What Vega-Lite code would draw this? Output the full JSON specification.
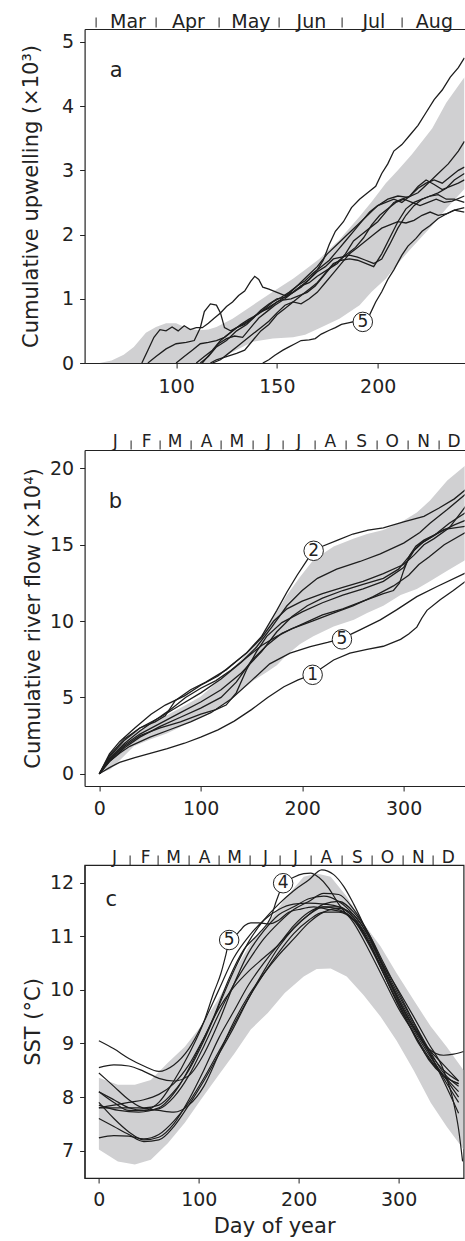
{
"$schema": "https://vega.github.io/schema/vega-lite/v6.json",
"padding": {"left": 19.6, "top": 12, "right": 0, "bottom": 0},
"config": {
  "view": {"stroke": "#222", "strokeWidth": 1.2},
  "axis": {"labelFont": "DejaVu Sans", "titleFont": "DejaVu Sans", "labelFontSize": 19, "titleFontSize": 21, "titleFontWeight": "normal", "labelColor": "#222", "titleColor": "#222", "domainColor": "#222", "tickColor": "#222", "grid": false, "domainWidth": 1.2, "tickWidth": 1, "labelFlush": false, "labelOverlap": false}
},
"datasets": {
"bandA": [{"d":52,"v":-0.05,"v2":-0.05},{"d":56,"v":-0.05,"v2":-0.03},{"d":62,"v":-0.05,"v2":0.0},{"d":68,"v":-0.05,"v2":0.04},{"d":74,"v":-0.05,"v2":0.13},{"d":79,"v":-0.05,"v2":0.25},{"d":85,"v":-0.05,"v2":0.47},{"d":90,"v":-0.05,"v2":0.56},{"d":95,"v":-0.05,"v2":0.62},{"d":100,"v":-0.05,"v2":0.62},{"d":105,"v":-0.05,"v2":0.55},{"d":111,"v":-0.05,"v2":0.51},{"d":116,"v":-0.02,"v2":0.52},{"d":120,"v":0.04,"v2":0.56},{"d":128,"v":0.17,"v2":0.69},{"d":138,"v":0.33,"v2":0.9},{"d":148,"v":0.38,"v2":1.11},{"d":158,"v":0.4,"v2":1.31},{"d":164,"v":0.44,"v2":1.45},{"d":171,"v":0.54,"v2":1.62},{"d":181,"v":0.69,"v2":1.92},{"d":191,"v":0.9,"v2":2.28},{"d":197,"v":1.11,"v2":2.51},{"d":204,"v":1.31,"v2":2.8},{"d":210,"v":1.55,"v2":3.0},{"d":217,"v":1.8,"v2":3.25},{"d":227,"v":2.14,"v2":3.65},{"d":234,"v":2.4,"v2":4.05},{"d":243,"v":2.71,"v2":4.45}],
"linesA": [
{"s":"a1","d":83,"v":0},{"s":"a1","d":86,"v":0.2},{"s":"a1","d":89,"v":0.4},{"s":"a1","d":92,"v":0.52},{"s":"a1","d":95,"v":0.5},{"s":"a1","d":98,"v":0.56},{"s":"a1","d":101,"v":0.5},{"s":"a1","d":104,"v":0.58},{"s":"a1","d":107,"v":0.52},{"s":"a1","d":110,"v":0.55},{"s":"a1","d":113,"v":0.55},{"s":"a1","d":116,"v":0.62},{"s":"a1","d":119,"v":0.7},{"s":"a1","d":122,"v":0.78},{"s":"a1","d":125,"v":0.88},{"s":"a1","d":128,"v":0.95},{"s":"a1","d":131,"v":1.05},{"s":"a1","d":134,"v":1.12},{"s":"a1","d":137,"v":1.27},{"s":"a1","d":139,"v":1.35},{"s":"a1","d":141,"v":1.3},{"s":"a1","d":143,"v":1.18},{"s":"a1","d":146,"v":1.15},{"s":"a1","d":150,"v":1.1},{"s":"a1","d":154,"v":1.05},{"s":"a1","d":158,"v":1.1},{"s":"a1","d":162,"v":1.2},{"s":"a1","d":166,"v":1.3},{"s":"a1","d":170,"v":1.42},{"s":"a1","d":174,"v":1.5},{"s":"a1","d":178,"v":1.62},{"s":"a1","d":182,"v":1.65},{"s":"a1","d":186,"v":1.68},{"s":"a1","d":190,"v":1.65},{"s":"a1","d":194,"v":1.6},{"s":"a1","d":198,"v":1.55},{"s":"a1","d":202,"v":1.62},{"s":"a1","d":206,"v":1.85},{"s":"a1","d":210,"v":2.1},{"s":"a1","d":214,"v":2.3},{"s":"a1","d":218,"v":2.45},{"s":"a1","d":222,"v":2.55},{"s":"a1","d":226,"v":2.6},{"s":"a1","d":230,"v":2.62},{"s":"a1","d":234,"v":2.55},{"s":"a1","d":238,"v":2.55},{"s":"a1","d":243,"v":2.5},
{"s":"a2","d":86,"v":0},{"s":"a2","d":90,"v":0.1},{"s":"a2","d":95,"v":0.22},{"s":"a2","d":100,"v":0.3},{"s":"a2","d":105,"v":0.32},{"s":"a2","d":109,"v":0.35},{"s":"a2","d":112,"v":0.55},{"s":"a2","d":114,"v":0.8},{"s":"a2","d":117,"v":0.92},{"s":"a2","d":120,"v":0.9},{"s":"a2","d":122,"v":0.78},{"s":"a2","d":124,"v":0.55},{"s":"a2","d":127,"v":0.5},{"s":"a2","d":130,"v":0.55},{"s":"a2","d":134,"v":0.6},{"s":"a2","d":138,"v":0.7},{"s":"a2","d":142,"v":0.8},{"s":"a2","d":146,"v":0.85},{"s":"a2","d":150,"v":0.95},{"s":"a2","d":154,"v":1.0},{"s":"a2","d":158,"v":1.1},{"s":"a2","d":162,"v":1.2},{"s":"a2","d":166,"v":1.25},{"s":"a2","d":170,"v":1.35},{"s":"a2","d":175,"v":1.45},{"s":"a2","d":180,"v":1.55},{"s":"a2","d":184,"v":1.7},{"s":"a2","d":188,"v":1.9},{"s":"a2","d":192,"v":2.0},{"s":"a2","d":196,"v":2.1},{"s":"a2","d":200,"v":2.2},{"s":"a2","d":204,"v":2.35},{"s":"a2","d":208,"v":2.5},{"s":"a2","d":212,"v":2.55},{"s":"a2","d":216,"v":2.6},{"s":"a2","d":220,"v":2.72},{"s":"a2","d":224,"v":2.8},{"s":"a2","d":228,"v":2.85},{"s":"a2","d":232,"v":2.8},{"s":"a2","d":236,"v":2.9},{"s":"a2","d":240,"v":3.0},{"s":"a2","d":243,"v":3.05},
{"s":"a3","d":112,"v":0},{"s":"a3","d":116,"v":0.1},{"s":"a3","d":120,"v":0.25},{"s":"a3","d":125,"v":0.35},{"s":"a3","d":130,"v":0.5},{"s":"a3","d":135,"v":0.6},{"s":"a3","d":140,"v":0.75},{"s":"a3","d":145,"v":0.85},{"s":"a3","d":150,"v":0.95},{"s":"a3","d":155,"v":1.05},{"s":"a3","d":160,"v":1.2},{"s":"a3","d":165,"v":1.35},{"s":"a3","d":170,"v":1.5},{"s":"a3","d":175,"v":1.7},{"s":"a3","d":180,"v":1.85},{"s":"a3","d":185,"v":2.0},{"s":"a3","d":190,"v":2.15},{"s":"a3","d":195,"v":2.3},{"s":"a3","d":200,"v":2.45},{"s":"a3","d":205,"v":2.55},{"s":"a3","d":210,"v":2.6},{"s":"a3","d":215,"v":2.58},{"s":"a3","d":220,"v":2.65},{"s":"a3","d":225,"v":2.8},{"s":"a3","d":230,"v":2.95},{"s":"a3","d":235,"v":3.1},{"s":"a3","d":240,"v":3.3},{"s":"a3","d":243,"v":3.45},
{"s":"a4","d":110,"v":0},{"s":"a4","d":114,"v":0.1},{"s":"a4","d":118,"v":0.2},{"s":"a4","d":122,"v":0.35},{"s":"a4","d":126,"v":0.45},{"s":"a4","d":130,"v":0.55},{"s":"a4","d":134,"v":0.62},{"s":"a4","d":138,"v":0.7},{"s":"a4","d":142,"v":0.82},{"s":"a4","d":146,"v":0.92},{"s":"a4","d":150,"v":1.0},{"s":"a4","d":154,"v":1.02},{"s":"a4","d":158,"v":1.1},{"s":"a4","d":162,"v":1.18},{"s":"a4","d":166,"v":1.3},{"s":"a4","d":170,"v":1.45},{"s":"a4","d":173,"v":1.6},{"s":"a4","d":176,"v":1.85},{"s":"a4","d":179,"v":2.05},{"s":"a4","d":183,"v":2.2},{"s":"a4","d":187,"v":2.42},{"s":"a4","d":191,"v":2.55},{"s":"a4","d":195,"v":2.65},{"s":"a4","d":199,"v":2.75},{"s":"a4","d":202,"v":2.95},{"s":"a4","d":205,"v":3.1},{"s":"a4","d":208,"v":3.3},{"s":"a4","d":212,"v":3.4},{"s":"a4","d":216,"v":3.55},{"s":"a4","d":220,"v":3.7},{"s":"a4","d":224,"v":3.9},{"s":"a4","d":228,"v":4.1},{"s":"a4","d":232,"v":4.25},{"s":"a4","d":236,"v":4.45},{"s":"a4","d":240,"v":4.6},{"s":"a4","d":243,"v":4.75},
{"s":"a5","d":117,"v":0},{"s":"a5","d":120,"v":0.05},{"s":"a5","d":125,"v":0.1},{"s":"a5","d":130,"v":0.15},{"s":"a5","d":134,"v":0.2},{"s":"a5","d":138,"v":0.35},{"s":"a5","d":142,"v":0.5},{"s":"a5","d":146,"v":0.6},{"s":"a5","d":150,"v":0.75},{"s":"a5","d":154,"v":0.85},{"s":"a5","d":158,"v":0.95},{"s":"a5","d":162,"v":1.05},{"s":"a5","d":166,"v":1.15},{"s":"a5","d":170,"v":1.25},{"s":"a5","d":174,"v":1.4},{"s":"a5","d":178,"v":1.55},{"s":"a5","d":182,"v":1.6},{"s":"a5","d":186,"v":1.62},{"s":"a5","d":190,"v":1.6},{"s":"a5","d":194,"v":1.55},{"s":"a5","d":198,"v":1.5},{"s":"a5","d":202,"v":1.7},{"s":"a5","d":206,"v":1.95},{"s":"a5","d":210,"v":2.2},{"s":"a5","d":214,"v":2.4},{"s":"a5","d":218,"v":2.5},{"s":"a5","d":222,"v":2.55},{"s":"a5","d":226,"v":2.6},{"s":"a5","d":230,"v":2.65},{"s":"a5","d":234,"v":2.72},{"s":"a5","d":238,"v":2.85},{"s":"a5","d":243,"v":2.95},
{"s":"a6","d":100,"v":0},{"s":"a6","d":104,"v":0.1},{"s":"a6","d":108,"v":0.2},{"s":"a6","d":112,"v":0.3},{"s":"a6","d":116,"v":0.32},{"s":"a6","d":120,"v":0.35},{"s":"a6","d":124,"v":0.4},{"s":"a6","d":128,"v":0.5},{"s":"a6","d":132,"v":0.6},{"s":"a6","d":136,"v":0.68},{"s":"a6","d":140,"v":0.75},{"s":"a6","d":144,"v":0.85},{"s":"a6","d":148,"v":0.95},{"s":"a6","d":152,"v":1.02},{"s":"a6","d":156,"v":1.1},{"s":"a6","d":160,"v":1.2},{"s":"a6","d":164,"v":1.28},{"s":"a6","d":168,"v":1.4},{"s":"a6","d":172,"v":1.5},{"s":"a6","d":176,"v":1.6},{"s":"a6","d":180,"v":1.75},{"s":"a6","d":184,"v":1.9},{"s":"a6","d":188,"v":2.05},{"s":"a6","d":192,"v":2.2},{"s":"a6","d":196,"v":2.35},{"s":"a6","d":200,"v":2.45},{"s":"a6","d":204,"v":2.5},{"s":"a6","d":208,"v":2.55},{"s":"a6","d":212,"v":2.5},{"s":"a6","d":216,"v":2.6},{"s":"a6","d":220,"v":2.75},{"s":"a6","d":224,"v":2.85},{"s":"a6","d":228,"v":2.78},{"s":"a6","d":232,"v":2.7},{"s":"a6","d":236,"v":2.75},{"s":"a6","d":240,"v":2.8},{"s":"a6","d":243,"v":2.85},
{"s":"a7","d":113,"v":0},{"s":"a7","d":117,"v":0.15},{"s":"a7","d":121,"v":0.3},{"s":"a7","d":125,"v":0.38},{"s":"a7","d":129,"v":0.42},{"s":"a7","d":133,"v":0.4},{"s":"a7","d":137,"v":0.55},{"s":"a7","d":141,"v":0.7},{"s":"a7","d":145,"v":0.8},{"s":"a7","d":149,"v":0.9},{"s":"a7","d":153,"v":0.98},{"s":"a7","d":157,"v":1.0},{"s":"a7","d":161,"v":1.05},{"s":"a7","d":165,"v":1.1},{"s":"a7","d":169,"v":1.2},{"s":"a7","d":173,"v":1.35},{"s":"a7","d":177,"v":1.5},{"s":"a7","d":181,"v":1.6},{"s":"a7","d":185,"v":1.7},{"s":"a7","d":189,"v":1.8},{"s":"a7","d":193,"v":1.95},{"s":"a7","d":197,"v":2.15},{"s":"a7","d":201,"v":2.3},{"s":"a7","d":205,"v":2.4},{"s":"a7","d":209,"v":2.5},{"s":"a7","d":213,"v":2.55},{"s":"a7","d":217,"v":2.5},{"s":"a7","d":221,"v":2.45},{"s":"a7","d":225,"v":2.5},{"s":"a7","d":229,"v":2.55},{"s":"a7","d":233,"v":2.5},{"s":"a7","d":237,"v":2.52},{"s":"a7","d":243,"v":2.6},
{"s":"a8","d":118,"v":0},{"s":"a8","d":122,"v":0.05},{"s":"a8","d":126,"v":0.15},{"s":"a8","d":130,"v":0.25},{"s":"a8","d":134,"v":0.35},{"s":"a8","d":138,"v":0.45},{"s":"a8","d":142,"v":0.55},{"s":"a8","d":146,"v":0.65},{"s":"a8","d":150,"v":0.78},{"s":"a8","d":154,"v":0.9},{"s":"a8","d":158,"v":0.95},{"s":"a8","d":162,"v":0.92},{"s":"a8","d":166,"v":1.0},{"s":"a8","d":170,"v":1.1},{"s":"a8","d":174,"v":1.25},{"s":"a8","d":178,"v":1.4},{"s":"a8","d":182,"v":1.55},{"s":"a8","d":186,"v":1.7},{"s":"a8","d":190,"v":1.8},{"s":"a8","d":194,"v":1.9},{"s":"a8","d":198,"v":2.0},{"s":"a8","d":202,"v":2.1},{"s":"a8","d":206,"v":2.15},{"s":"a8","d":210,"v":2.2},{"s":"a8","d":214,"v":2.18},{"s":"a8","d":218,"v":2.22},{"s":"a8","d":222,"v":2.3},{"s":"a8","d":226,"v":2.35},{"s":"a8","d":230,"v":2.3},{"s":"a8","d":234,"v":2.32},{"s":"a8","d":238,"v":2.38},{"s":"a8","d":243,"v":2.35},
{"s":"a9","d":143,"v":0},{"s":"a9","d":146,"v":0.05},{"s":"a9","d":149,"v":0.12},{"s":"a9","d":153,"v":0.2},{"s":"a9","d":156,"v":0.25},{"s":"a9","d":159,"v":0.3},{"s":"a9","d":162,"v":0.35},{"s":"a9","d":166,"v":0.36},{"s":"a9","d":169,"v":0.38},{"s":"a9","d":172,"v":0.45},{"s":"a9","d":176,"v":0.51},{"s":"a9","d":179,"v":0.55},{"s":"a9","d":182,"v":0.6},{"s":"a9","d":186,"v":0.63},{"s":"a9","d":189,"v":0.65},{"s":"a9","d":193,"v":0.66},{"s":"a9","d":196,"v":0.75},{"s":"a9","d":199,"v":0.95},{"s":"a9","d":202,"v":1.11},{"s":"a9","d":205,"v":1.3},{"s":"a9","d":208,"v":1.45},{"s":"a9","d":212,"v":1.68},{"s":"a9","d":215,"v":1.82},{"s":"a9","d":219,"v":1.94},{"s":"a9","d":222,"v":2.05},{"s":"a9","d":226,"v":2.14},{"s":"a9","d":230,"v":2.25},{"s":"a9","d":234,"v":2.32},{"s":"a9","d":238,"v":2.38},{"s":"a9","d":243,"v":2.42}
],
"labA": [{"d":192.6,"v":0.64,"t":"5"}],
"letA": [{"d":70.3,"v":4.55,"t":"a"}],
"bandB": [{"d":0,"v":0,"v2":0},{"d":5,"v":0.15,"v2":0.6},{"d":11,"v":0.3,"v2":1.1},{"d":22,"v":1.0,"v2":1.95},{"d":34,"v":1.8,"v2":2.66},{"d":50,"v":2.25,"v2":3.3},{"d":67,"v":2.66,"v2":3.85},{"d":84,"v":3.2,"v2":4.45},{"d":100,"v":3.75,"v2":5.06},{"d":116,"v":4.3,"v2":6.0},{"d":133,"v":5.06,"v2":7.0},{"d":152,"v":6.1,"v2":8.33},{"d":166,"v":6.7,"v2":9.6},{"d":175,"v":7.1,"v2":10.6},{"d":185,"v":7.8,"v2":11.7},{"d":198,"v":8.5,"v2":12.9},{"d":211,"v":9.0,"v2":14.0},{"d":231,"v":9.64,"v2":14.88},{"d":251,"v":10.08,"v2":15.4},{"d":264,"v":10.52,"v2":15.7},{"d":280,"v":11.0,"v2":15.97},{"d":297,"v":11.7,"v2":16.45},{"d":313,"v":12.1,"v2":17.1},{"d":326,"v":12.6,"v2":17.9},{"d":343,"v":13.3,"v2":19.2},{"d":361,"v":14.0,"v2":20.2}],
"linesB": [
{"s":"b1","d":0,"v":0},{"s":"b1","d":10,"v":0.4},{"s":"b1","d":20,"v":0.75},{"s":"b1","d":35,"v":1.05},{"s":"b1","d":51,"v":1.35},{"s":"b1","d":67,"v":1.65},{"s":"b1","d":84,"v":2.0},{"s":"b1","d":100,"v":2.4},{"s":"b1","d":117,"v":2.88},{"s":"b1","d":133,"v":3.45},{"s":"b1","d":150,"v":4.2},{"s":"b1","d":166,"v":5.0},{"s":"b1","d":182,"v":5.7},{"s":"b1","d":196,"v":6.15},{"s":"b1","d":210,"v":6.5},{"s":"b1","d":231,"v":7.45},{"s":"b1","d":247,"v":7.9},{"s":"b1","d":264,"v":8.15},{"s":"b1","d":280,"v":8.35},{"s":"b1","d":297,"v":8.8},{"s":"b1","d":305,"v":9.15},{"s":"b1","d":313,"v":9.6},{"s":"b1","d":318,"v":10.2},{"s":"b1","d":323,"v":10.7},{"s":"b1","d":336,"v":11.4},{"s":"b1","d":349,"v":12.0},{"s":"b1","d":361,"v":12.6},
{"s":"b2","d":0,"v":0},{"s":"b2","d":10,"v":1.3},{"s":"b2","d":20,"v":2.1},{"s":"b2","d":35,"v":3.0},{"s":"b2","d":51,"v":3.9},{"s":"b2","d":65,"v":4.5},{"s":"b2","d":84,"v":5.1},{"s":"b2","d":100,"v":5.8},{"s":"b2","d":117,"v":6.4},{"s":"b2","d":130,"v":7.1},{"s":"b2","d":145,"v":7.9},{"s":"b2","d":160,"v":9.0},{"s":"b2","d":175,"v":10.7},{"s":"b2","d":185,"v":11.9},{"s":"b2","d":195,"v":13.0},{"s":"b2","d":205,"v":14.0},{"s":"b2","d":211,"v":14.6},{"s":"b2","d":220,"v":14.9},{"s":"b2","d":235,"v":15.3},{"s":"b2","d":250,"v":15.7},{"s":"b2","d":265,"v":15.95},{"s":"b2","d":280,"v":16.1},{"s":"b2","d":300,"v":16.5},{"s":"b2","d":320,"v":16.85},{"s":"b2","d":335,"v":17.4},{"s":"b2","d":350,"v":18.0},{"s":"b2","d":361,"v":18.6},
{"s":"b3","d":0,"v":0},{"s":"b3","d":10,"v":1.2},{"s":"b3","d":25,"v":2.3},{"s":"b3","d":40,"v":3.0},{"s":"b3","d":60,"v":3.7},{"s":"b3","d":80,"v":4.5},{"s":"b3","d":100,"v":5.3},{"s":"b3","d":120,"v":6.2},{"s":"b3","d":140,"v":7.3},{"s":"b3","d":155,"v":8.3},{"s":"b3","d":170,"v":9.6},{"s":"b3","d":185,"v":11.0},{"s":"b3","d":200,"v":12.0},{"s":"b3","d":215,"v":12.8},{"s":"b3","d":234,"v":13.4},{"s":"b3","d":257,"v":13.9},{"s":"b3","d":277,"v":14.4},{"s":"b3","d":300,"v":15.1},{"s":"b3","d":316,"v":15.8},{"s":"b3","d":326,"v":16.4},{"s":"b3","d":343,"v":17.3},{"s":"b3","d":361,"v":18.3},
{"s":"b4","d":0,"v":0},{"s":"b4","d":10,"v":0.9},{"s":"b4","d":25,"v":1.9},{"s":"b4","d":40,"v":2.6},{"s":"b4","d":60,"v":3.3},{"s":"b4","d":80,"v":4.0},{"s":"b4","d":100,"v":4.7},{"s":"b4","d":120,"v":5.5},{"s":"b4","d":140,"v":6.6},{"s":"b4","d":160,"v":8.0},{"s":"b4","d":175,"v":9.3},{"s":"b4","d":190,"v":10.3},{"s":"b4","d":205,"v":11.0},{"s":"b4","d":220,"v":11.5},{"s":"b4","d":240,"v":12.0},{"s":"b4","d":260,"v":12.4},{"s":"b4","d":280,"v":12.8},{"s":"b4","d":295,"v":13.4},{"s":"b4","d":305,"v":14.2},{"s":"b4","d":315,"v":15.0},{"s":"b4","d":330,"v":15.6},{"s":"b4","d":345,"v":16.4},{"s":"b4","d":361,"v":17.1},
{"s":"b5","d":0,"v":0},{"s":"b5","d":10,"v":0.8},{"s":"b5","d":20,"v":1.35},{"s":"b5","d":30,"v":1.8},{"s":"b5","d":50,"v":2.4},{"s":"b5","d":70,"v":2.9},{"s":"b5","d":90,"v":3.4},{"s":"b5","d":110,"v":4.0},{"s":"b5","d":130,"v":4.9},{"s":"b5","d":150,"v":6.1},{"s":"b5","d":168,"v":7.2},{"s":"b5","d":188,"v":7.9},{"s":"b5","d":208,"v":8.33},{"s":"b5","d":225,"v":8.6},{"s":"b5","d":239,"v":8.85},{"s":"b5","d":257,"v":9.42},{"s":"b5","d":277,"v":10.08},{"s":"b5","d":293,"v":10.73},{"s":"b5","d":313,"v":11.6},{"s":"b5","d":333,"v":12.26},{"s":"b5","d":361,"v":13.15},
{"s":"b6","d":0,"v":0},{"s":"b6","d":10,"v":0.8},{"s":"b6","d":25,"v":1.7},{"s":"b6","d":40,"v":2.4},{"s":"b6","d":60,"v":3.1},{"s":"b6","d":80,"v":3.7},{"s":"b6","d":100,"v":4.3},{"s":"b6","d":120,"v":5.0},{"s":"b6","d":135,"v":6.0},{"s":"b6","d":150,"v":7.4},{"s":"b6","d":165,"v":8.4},{"s":"b6","d":180,"v":9.2},{"s":"b6","d":200,"v":9.8},{"s":"b6","d":220,"v":10.4},{"s":"b6","d":240,"v":10.8},{"s":"b6","d":260,"v":11.3},{"s":"b6","d":280,"v":11.8},{"s":"b6","d":290,"v":12.0},{"s":"b6","d":296,"v":12.5},{"s":"b6","d":300,"v":13.3},{"s":"b6","d":306,"v":14.3},{"s":"b6","d":312,"v":14.9},{"s":"b6","d":320,"v":15.3},{"s":"b6","d":335,"v":15.8},{"s":"b6","d":350,"v":16.3},{"s":"b6","d":361,"v":16.6},
{"s":"b7","d":0,"v":0},{"s":"b7","d":10,"v":1.0},{"s":"b7","d":25,"v":2.0},{"s":"b7","d":40,"v":2.8},{"s":"b7","d":55,"v":3.5},{"s":"b7","d":70,"v":4.2},{"s":"b7","d":85,"v":5.0},{"s":"b7","d":100,"v":5.6},{"s":"b7","d":115,"v":6.1},{"s":"b7","d":130,"v":6.8},{"s":"b7","d":145,"v":7.6},{"s":"b7","d":160,"v":8.4},{"s":"b7","d":175,"v":9.0},{"s":"b7","d":190,"v":9.5},{"s":"b7","d":210,"v":10.0},{"s":"b7","d":230,"v":10.5},{"s":"b7","d":250,"v":11.0},{"s":"b7","d":270,"v":11.6},{"s":"b7","d":290,"v":12.3},{"s":"b7","d":305,"v":13.0},{"s":"b7","d":315,"v":13.7},{"s":"b7","d":325,"v":14.2},{"s":"b7","d":340,"v":15.0},{"s":"b7","d":361,"v":15.8},
{"s":"b8","d":0,"v":0},{"s":"b8","d":10,"v":1.1},{"s":"b8","d":25,"v":2.2},{"s":"b8","d":40,"v":3.0},{"s":"b8","d":55,"v":3.4},{"s":"b8","d":65,"v":3.8},{"s":"b8","d":75,"v":4.8},{"s":"b8","d":90,"v":5.5},{"s":"b8","d":105,"v":6.0},{"s":"b8","d":125,"v":6.8},{"s":"b8","d":145,"v":7.9},{"s":"b8","d":160,"v":8.9},{"s":"b8","d":172,"v":10.0},{"s":"b8","d":185,"v":10.8},{"s":"b8","d":200,"v":11.3},{"s":"b8","d":220,"v":11.8},{"s":"b8","d":240,"v":12.2},{"s":"b8","d":260,"v":12.6},{"s":"b8","d":280,"v":13.1},{"s":"b8","d":300,"v":13.7},{"s":"b8","d":310,"v":14.3},{"s":"b8","d":320,"v":15.0},{"s":"b8","d":330,"v":15.4},{"s":"b8","d":345,"v":16.1},{"s":"b8","d":361,"v":17.5},
{"s":"b9","d":0,"v":0},{"s":"b9","d":10,"v":0.9},{"s":"b9","d":25,"v":1.8},{"s":"b9","d":40,"v":2.5},{"s":"b9","d":60,"v":3.0},{"s":"b9","d":80,"v":3.4},{"s":"b9","d":100,"v":3.9},{"s":"b9","d":115,"v":4.2},{"s":"b9","d":125,"v":4.5},{"s":"b9","d":135,"v":5.3},{"s":"b9","d":145,"v":6.8},{"s":"b9","d":155,"v":8.0},{"s":"b9","d":165,"v":9.0},{"s":"b9","d":180,"v":9.9},{"s":"b9","d":200,"v":10.6},{"s":"b9","d":220,"v":11.2},{"s":"b9","d":240,"v":11.7},{"s":"b9","d":260,"v":12.1},{"s":"b9","d":280,"v":12.6},{"s":"b9","d":300,"v":13.5},{"s":"b9","d":310,"v":14.6},{"s":"b9","d":320,"v":15.2},{"s":"b9","d":340,"v":16.0},{"s":"b9","d":361,"v":16.2}
],
"labB": [{"d":211.3,"v":14.6,"t":"2"},{"d":239.2,"v":8.8,"t":"5"},{"d":210.3,"v":6.48,"t":"1"}],
"letB": [{"d":15.8,"v":17.8,"t":"b"}],
"bandC": [{"d":0,"v":7.02,"v2":8.36},{"d":19,"v":6.8,"v2":8.23},{"d":36,"v":6.74,"v2":8.23},{"d":52,"v":6.83,"v2":8.32},{"d":69,"v":7.14,"v2":8.64},{"d":86,"v":7.52,"v2":8.94},{"d":102,"v":7.95,"v2":9.32},{"d":119,"v":8.39,"v2":9.81},{"d":136,"v":8.82,"v2":10.37},{"d":152,"v":9.26,"v2":10.87},{"d":169,"v":9.57,"v2":11.24},{"d":186,"v":9.94,"v2":11.7},{"d":205,"v":10.25,"v2":12.11},{"d":218,"v":10.39,"v2":12.17},{"d":232,"v":10.4,"v2":12.11},{"d":248,"v":10.25,"v2":11.74},{"d":265,"v":9.9,"v2":11.24},{"d":282,"v":9.5,"v2":10.81},{"d":298,"v":9.05,"v2":10.31},{"d":315,"v":8.5,"v2":9.81},{"d":332,"v":7.9,"v2":9.32},{"d":348,"v":7.45,"v2":8.94},{"d":365,"v":7.02,"v2":8.5}],
"linesC": [
{"s":"c1","d":0,"v":9.05},{"s":"c1","d":15,"v":8.9},{"s":"c1","d":30,"v":8.72},{"s":"c1","d":45,"v":8.58},{"s":"c1","d":60,"v":8.48},{"s":"c1","d":75,"v":8.6},{"s":"c1","d":90,"v":8.9},{"s":"c1","d":105,"v":9.4},{"s":"c1","d":120,"v":10.0},{"s":"c1","d":135,"v":10.6},{"s":"c1","d":150,"v":11.0},{"s":"c1","d":165,"v":11.3},{"s":"c1","d":180,"v":11.5},{"s":"c1","d":195,"v":11.6},{"s":"c1","d":210,"v":11.62},{"s":"c1","d":225,"v":11.6},{"s":"c1","d":240,"v":11.55},{"s":"c1","d":255,"v":11.35},{"s":"c1","d":270,"v":10.9},{"s":"c1","d":285,"v":10.3},{"s":"c1","d":300,"v":9.7},{"s":"c1","d":315,"v":9.2},{"s":"c1","d":330,"v":8.7},{"s":"c1","d":345,"v":8.4},{"s":"c1","d":360,"v":8.25},
{"s":"c2","d":0,"v":8.55},{"s":"c2","d":15,"v":8.6},{"s":"c2","d":30,"v":8.58},{"s":"c2","d":45,"v":8.48},{"s":"c2","d":60,"v":8.35},{"s":"c2","d":75,"v":8.3},{"s":"c2","d":90,"v":8.4},{"s":"c2","d":105,"v":8.8},{"s":"c2","d":120,"v":9.4},{"s":"c2","d":135,"v":10.1},{"s":"c2","d":150,"v":10.7},{"s":"c2","d":165,"v":11.1},{"s":"c2","d":180,"v":11.4},{"s":"c2","d":195,"v":11.55},{"s":"c2","d":210,"v":11.7},{"s":"c2","d":225,"v":11.75},{"s":"c2","d":240,"v":11.65},{"s":"c2","d":255,"v":11.4},{"s":"c2","d":270,"v":11.0},{"s":"c2","d":285,"v":10.4},{"s":"c2","d":300,"v":9.8},{"s":"c2","d":315,"v":9.3},{"s":"c2","d":330,"v":8.9},{"s":"c2","d":345,"v":8.6},{"s":"c2","d":360,"v":8.3},
{"s":"c3","d":0,"v":8.45},{"s":"c3","d":15,"v":8.2},{"s":"c3","d":30,"v":7.95},{"s":"c3","d":45,"v":7.8},{"s":"c3","d":60,"v":7.85},{"s":"c3","d":75,"v":8.1},{"s":"c3","d":90,"v":8.5},{"s":"c3","d":105,"v":9.05},{"s":"c3","d":120,"v":9.7},{"s":"c3","d":135,"v":10.35},{"s":"c3","d":150,"v":10.9},{"s":"c3","d":165,"v":11.3},{"s":"c3","d":180,"v":11.6},{"s":"c3","d":195,"v":11.85},{"s":"c3","d":210,"v":12.05},{"s":"c3","d":223,"v":12.24},{"s":"c3","d":235,"v":12.15},{"s":"c3","d":245,"v":11.93},{"s":"c3","d":255,"v":11.6},{"s":"c3","d":268,"v":11.1},{"s":"c3","d":282,"v":10.55},{"s":"c3","d":298,"v":10.05},{"s":"c3","d":315,"v":9.5},{"s":"c3","d":330,"v":9.0},{"s":"c3","d":345,"v":8.5},{"s":"c3","d":355,"v":7.9},{"s":"c3","d":360,"v":7.4},{"s":"c3","d":364,"v":6.8},
{"s":"c4","d":0,"v":7.85},{"s":"c4","d":20,"v":7.75},{"s":"c4","d":40,"v":7.72},{"s":"c4","d":60,"v":7.8},{"s":"c4","d":80,"v":8.2},{"s":"c4","d":100,"v":8.9},{"s":"c4","d":115,"v":9.5},{"s":"c4","d":130,"v":10.2},{"s":"c4","d":145,"v":10.75},{"s":"c4","d":160,"v":11.05},{"s":"c4","d":172,"v":11.35},{"s":"c4","d":178,"v":11.68},{"s":"c4","d":184,"v":11.95},{"s":"c4","d":195,"v":12.1},{"s":"c4","d":205,"v":12.17},{"s":"c4","d":212,"v":12.18},{"s":"c4","d":220,"v":12.1},{"s":"c4","d":230,"v":11.9},{"s":"c4","d":240,"v":11.6},{"s":"c4","d":255,"v":11.25},{"s":"c4","d":270,"v":10.75},{"s":"c4","d":285,"v":10.2},{"s":"c4","d":300,"v":9.65},{"s":"c4","d":315,"v":9.2},{"s":"c4","d":330,"v":8.75},{"s":"c4","d":345,"v":8.4},{"s":"c4","d":360,"v":8.25},
{"s":"c5","d":0,"v":8.1},{"s":"c5","d":15,"v":7.9},{"s":"c5","d":30,"v":7.75},{"s":"c5","d":45,"v":7.75},{"s":"c5","d":60,"v":7.9},{"s":"c5","d":75,"v":8.3},{"s":"c5","d":90,"v":8.8},{"s":"c5","d":105,"v":9.4},{"s":"c5","d":115,"v":9.95},{"s":"c5","d":122,"v":10.3},{"s":"c5","d":127,"v":10.65},{"s":"c5","d":131,"v":10.95},{"s":"c5","d":136,"v":11.0},{"s":"c5","d":141,"v":11.1},{"s":"c5","d":146,"v":11.2},{"s":"c5","d":152,"v":11.25},{"s":"c5","d":160,"v":11.25},{"s":"c5","d":170,"v":11.23},{"s":"c5","d":180,"v":11.3},{"s":"c5","d":190,"v":11.45},{"s":"c5","d":200,"v":11.5},{"s":"c5","d":215,"v":11.55},{"s":"c5","d":230,"v":11.5},{"s":"c5","d":245,"v":11.45},{"s":"c5","d":260,"v":11.2},{"s":"c5","d":275,"v":10.7},{"s":"c5","d":290,"v":10.1},{"s":"c5","d":305,"v":9.55},{"s":"c5","d":320,"v":9.0},{"s":"c5","d":335,"v":8.6},{"s":"c5","d":350,"v":8.3},{"s":"c5","d":360,"v":8.1},
{"s":"c6","d":0,"v":7.24},{"s":"c6","d":15,"v":7.28},{"s":"c6","d":30,"v":7.27},{"s":"c6","d":45,"v":7.22},{"s":"c6","d":60,"v":7.3},{"s":"c6","d":75,"v":7.55},{"s":"c6","d":90,"v":7.9},{"s":"c6","d":105,"v":8.35},{"s":"c6","d":120,"v":8.85},{"s":"c6","d":135,"v":9.35},{"s":"c6","d":150,"v":9.85},{"s":"c6","d":165,"v":10.3},{"s":"c6","d":180,"v":10.7},{"s":"c6","d":195,"v":11.05},{"s":"c6","d":210,"v":11.3},{"s":"c6","d":225,"v":11.45},{"s":"c6","d":240,"v":11.45},{"s":"c6","d":255,"v":11.3},{"s":"c6","d":270,"v":10.9},{"s":"c6","d":285,"v":10.35},{"s":"c6","d":300,"v":9.8},{"s":"c6","d":315,"v":9.3},{"s":"c6","d":330,"v":8.85},{"s":"c6","d":345,"v":8.5},{"s":"c6","d":360,"v":8.3},
{"s":"c7","d":0,"v":7.8},{"s":"c7","d":20,"v":7.8},{"s":"c7","d":40,"v":7.8},{"s":"c7","d":60,"v":7.75},{"s":"c7","d":75,"v":7.72},{"s":"c7","d":90,"v":7.85},{"s":"c7","d":105,"v":8.2},{"s":"c7","d":120,"v":8.8},{"s":"c7","d":135,"v":9.4},{"s":"c7","d":150,"v":9.9},{"s":"c7","d":165,"v":10.3},{"s":"c7","d":180,"v":10.65},{"s":"c7","d":195,"v":10.95},{"s":"c7","d":210,"v":11.25},{"s":"c7","d":225,"v":11.45},{"s":"c7","d":240,"v":11.52},{"s":"c7","d":255,"v":11.4},{"s":"c7","d":270,"v":11.0},{"s":"c7","d":285,"v":10.4},{"s":"c7","d":300,"v":9.8},{"s":"c7","d":315,"v":9.3},{"s":"c7","d":330,"v":8.9},{"s":"c7","d":345,"v":8.78},{"s":"c7","d":355,"v":8.8},{"s":"c7","d":365,"v":8.85},
{"s":"c8","d":0,"v":7.6},{"s":"c8","d":15,"v":7.45},{"s":"c8","d":30,"v":7.3},{"s":"c8","d":45,"v":7.17},{"s":"c8","d":60,"v":7.2},{"s":"c8","d":75,"v":7.45},{"s":"c8","d":90,"v":7.85},{"s":"c8","d":105,"v":8.3},{"s":"c8","d":120,"v":8.8},{"s":"c8","d":135,"v":9.3},{"s":"c8","d":150,"v":9.85},{"s":"c8","d":165,"v":10.35},{"s":"c8","d":180,"v":10.8},{"s":"c8","d":195,"v":11.15},{"s":"c8","d":210,"v":11.4},{"s":"c8","d":225,"v":11.55},{"s":"c8","d":240,"v":11.55},{"s":"c8","d":255,"v":11.35},{"s":"c8","d":270,"v":10.95},{"s":"c8","d":285,"v":10.4},{"s":"c8","d":300,"v":9.85},{"s":"c8","d":315,"v":9.35},{"s":"c8","d":330,"v":8.85},{"s":"c8","d":345,"v":8.3},{"s":"c8","d":360,"v":7.7},
{"s":"c9","d":0,"v":7.9},{"s":"c9","d":15,"v":7.6},{"s":"c9","d":30,"v":7.35},{"s":"c9","d":45,"v":7.2},{"s":"c9","d":60,"v":7.25},{"s":"c9","d":75,"v":7.5},{"s":"c9","d":90,"v":7.95},{"s":"c9","d":105,"v":8.5},{"s":"c9","d":120,"v":9.1},{"s":"c9","d":135,"v":9.6},{"s":"c9","d":150,"v":10.1},{"s":"c9","d":165,"v":10.5},{"s":"c9","d":180,"v":10.85},{"s":"c9","d":195,"v":11.15},{"s":"c9","d":210,"v":11.4},{"s":"c9","d":225,"v":11.6},{"s":"c9","d":240,"v":11.65},{"s":"c9","d":255,"v":11.45},{"s":"c9","d":270,"v":11.05},{"s":"c9","d":285,"v":10.5},{"s":"c9","d":300,"v":9.95},{"s":"c9","d":315,"v":9.4},{"s":"c9","d":330,"v":8.85},{"s":"c9","d":345,"v":8.35},{"s":"c9","d":360,"v":7.9},
{"s":"c10","d":0,"v":7.8},{"s":"c10","d":15,"v":7.85},{"s":"c10","d":30,"v":7.9},{"s":"c10","d":45,"v":7.95},{"s":"c10","d":60,"v":8.05},{"s":"c10","d":75,"v":8.25},{"s":"c10","d":90,"v":8.6},{"s":"c10","d":105,"v":9.1},{"s":"c10","d":120,"v":9.65},{"s":"c10","d":135,"v":10.05},{"s":"c10","d":150,"v":10.35},{"s":"c10","d":165,"v":10.6},{"s":"c10","d":180,"v":10.85},{"s":"c10","d":195,"v":11.2},{"s":"c10","d":210,"v":11.45},{"s":"c10","d":225,"v":11.55},{"s":"c10","d":240,"v":11.5},{"s":"c10","d":255,"v":11.3},{"s":"c10","d":270,"v":10.85},{"s":"c10","d":285,"v":10.3},{"s":"c10","d":300,"v":9.75},{"s":"c10","d":315,"v":9.25},{"s":"c10","d":330,"v":8.8},{"s":"c10","d":345,"v":8.4},{"s":"c10","d":360,"v":8.0},
{"s":"c11","d":0,"v":8.1},{"s":"c11","d":15,"v":7.95},{"s":"c11","d":30,"v":7.8},{"s":"c11","d":45,"v":7.75},{"s":"c11","d":60,"v":7.78},{"s":"c11","d":75,"v":8.0},{"s":"c11","d":90,"v":8.4},{"s":"c11","d":105,"v":8.95},{"s":"c11","d":120,"v":9.55},{"s":"c11","d":135,"v":10.1},{"s":"c11","d":150,"v":10.55},{"s":"c11","d":165,"v":10.95},{"s":"c11","d":180,"v":11.25},{"s":"c11","d":195,"v":11.5},{"s":"c11","d":210,"v":11.65},{"s":"c11","d":225,"v":11.8},{"s":"c11","d":240,"v":11.78},{"s":"c11","d":255,"v":11.5},{"s":"c11","d":270,"v":11.05},{"s":"c11","d":285,"v":10.45},{"s":"c11","d":300,"v":9.9},{"s":"c11","d":315,"v":9.4},{"s":"c11","d":330,"v":8.9},{"s":"c11","d":345,"v":8.45},{"s":"c11","d":360,"v":8.2}
],
"labC": [{"d":184.4,"v":11.99,"t":"4"},{"d":130.4,"v":10.93,"t":"5"}],
"letC": [{"d":12.4,"v":11.68,"t":"c"}]
},
"concat": [
{
 "width": 380, "height": 334,
 "view": {"stroke": null},
 "encoding": {"y": {"field": "v", "type": "quantitative", "scale": {"domain": [0, 5.2], "nice": false, "zero": false}, "axis": {"orient": "left", "values": [0, 1, 2, 3, 4, 5], "title": "Cumulative upwelling (×10³)", "tickSize": 5, "labelPadding": 6, "titlePadding": 20.5}}},
 "layer": [
  {"data": {"name": "bandA"}, "mark": {"type": "area", "color": "#d0d0d2", "clip": true},
   "encoding": {
    "x": {"field": "d", "type": "quantitative", "scale": {"domain": [54.6, 243.1], "nice": false, "zero": false}, "axis": {"orient": "bottom", "values": [100, 150, 200], "title": null, "tickSize": 5, "labelPadding": 9}},
    "y2": {"field": "v2"}}},
  {"data": {"name": "linesA"}, "mark": {"type": "line", "color": "#1e1e1e", "strokeWidth": 1.3, "clip": true},
   "encoding": {
    "x": {"field": "d", "type": "quantitative", "axis": {"orient": "top", "values": [60, 90, 121, 151, 182, 212], "labelExpr": "['Mar','Apr','May','Jun','Jul','Aug'][indexof([60,90,121,151,182,212], datum.value)]", "domain": false, "offset": 2, "tickSize": 10, "labelPadding": -10, "labelBaseline": "alphabetic", "labelOffset": 32, "title": null}},
    "detail": {"field": "s"}}},
  {"data": {"name": "labA"}, "mark": {"type": "point", "shape": "circle", "filled": true, "fill": "white", "stroke": "#222", "strokeWidth": 1, "size": 380, "opacity": 1},
   "encoding": {
    "x": {"field": "d", "type": "quantitative", "axis": {"orient": "top", "labels": false, "ticks": false, "domain": true, "title": null}}}},
  {"data": {"name": "labA"}, "mark": {"type": "text", "font": "DejaVu Sans", "fontSize": 17, "baseline": "middle", "color": "#222"},
   "encoding": {"x": {"field": "d", "type": "quantitative", "axis": null}, "text": {"field": "t"}}},
  {"data": {"name": "letA"}, "mark": {"type": "text", "font": "DejaVu Sans", "fontSize": 21, "baseline": "middle", "color": "#222"},
   "encoding": {"x": {"field": "d", "type": "quantitative", "axis": null}, "text": {"field": "t"}}}
 ],
 "resolve": {"axis": {"x": "independent"}}
},
{
 "concat": [
 {
  "width": 380, "height": 336,
  "view": {"stroke": null},
  "encoding": {"y": {"field": "v", "type": "quantitative", "scale": {"domain": [-0.8, 21.2], "nice": false, "zero": false}, "axis": {"orient": "left", "values": [0, 5, 10, 15, 20], "title": "Cumulative river flow (×10⁴)", "tickSize": 5, "labelPadding": 6, "titlePadding": 6}}},
  "layer": [
   {"data": {"name": "bandB"}, "mark": {"type": "area", "color": "#d0d0d2", "clip": true},
    "encoding": {
     "x": {"field": "d", "type": "quantitative", "scale": {"domain": [-14.5, 360.1], "nice": false, "zero": false}, "axis": {"orient": "bottom", "values": [0, 100, 200, 300], "title": null, "tickSize": 5, "labelPadding": 9}},
     "y2": {"field": "v2"}}},
   {"data": {"name": "linesB"}, "mark": {"type": "line", "color": "#1e1e1e", "strokeWidth": 1.3, "clip": true},
    "encoding": {
     "x": {"field": "d", "type": "quantitative", "axis": {"orient": "top", "values": [0, 31, 59, 90, 120, 151, 181, 212, 243, 273, 304, 334], "labelExpr": "['J','F','M','A','M','J','J','A','S','O','N','D'][indexof([0,31,59,90,120,151,181,212,243,273,304,334], datum.value)]", "tickOpacity": {"condition": {"test": "datum.value == 0", "value": 0}, "value": 1}, "domain": false, "offset": 1, "tickSize": 9, "labelPadding": -6.5, "labelBaseline": "alphabetic", "labelOffset": 15.4, "labelFontSize": 17, "title": null}},
     "detail": {"field": "s"}}},
   {"data": {"name": "labB"}, "mark": {"type": "point", "shape": "circle", "filled": true, "fill": "white", "stroke": "#222", "strokeWidth": 1, "size": 380, "opacity": 1},
    "encoding": {
     "x": {"field": "d", "type": "quantitative", "axis": {"orient": "top", "labels": false, "ticks": false, "domain": true, "title": null}}}},
   {"data": {"name": "labB"}, "mark": {"type": "text", "font": "DejaVu Sans", "fontSize": 17, "baseline": "middle", "color": "#222"},
    "encoding": {"x": {"field": "d", "type": "quantitative", "axis": null}, "text": {"field": "t"}}},
   {"data": {"name": "letB"}, "mark": {"type": "text", "font": "DejaVu Sans", "fontSize": 21, "baseline": "middle", "color": "#222"},
    "encoding": {"x": {"field": "d", "type": "quantitative", "axis": null}, "text": {"field": "t"}}}
  ],
  "resolve": {"axis": {"x": "independent"}}
 },
 {
  "width": 379, "height": 313,
  "encoding": {"y": {"field": "v", "type": "quantitative", "scale": {"domain": [6.49, 12.33], "nice": false, "zero": false}, "axis": {"orient": "left", "values": [7, 8, 9, 10, 11, 12], "title": "SST (°C)", "tickSize": 5, "labelPadding": 6, "titlePadding": 6}}},
  "layer": [
   {"data": {"name": "bandC"}, "mark": {"type": "area", "color": "#d0d0d2", "clip": true},
    "encoding": {
     "x": {"field": "d", "type": "quantitative", "scale": {"domain": [-14.3, 365], "nice": false, "zero": false}, "axis": {"orient": "bottom", "values": [0, 100, 200, 300], "title": "Day of year", "titleFontSize": 21, "titlePadding": 6, "tickSize": 5, "labelPadding": 8}},
     "y2": {"field": "v2"}}},
   {"data": {"name": "linesC"}, "mark": {"type": "line", "color": "#1e1e1e", "strokeWidth": 1.2, "clip": true, "interpolate": "monotone"},
    "encoding": {
     "x": {"field": "d", "type": "quantitative", "axis": {"orient": "top", "values": [0, 31, 59, 90, 120, 151, 181, 212, 243, 273, 304, 334], "labelExpr": "['J','F','M','A','M','J','J','A','S','O','N','D'][indexof([0,31,59,90,120,151,181,212,243,273,304,334], datum.value)]", "tickOpacity": {"condition": {"test": "datum.value == 0", "value": 0}, "value": 1}, "domain": false, "offset": 0.5, "tickSize": 9.5, "labelPadding": -7.7, "labelBaseline": "alphabetic", "labelOffset": 15.2, "labelFontSize": 17, "title": null}},
     "detail": {"field": "s"}}},
   {"data": {"name": "labC"}, "mark": {"type": "point", "shape": "circle", "filled": true, "fill": "white", "stroke": "#222", "strokeWidth": 1, "size": 380, "opacity": 1},
    "encoding": {"x": {"field": "d", "type": "quantitative", "axis": null}}},
   {"data": {"name": "labC"}, "mark": {"type": "text", "font": "DejaVu Sans", "fontSize": 17, "baseline": "middle", "color": "#222"},
    "encoding": {"x": {"field": "d", "type": "quantitative", "axis": null}, "text": {"field": "t"}}},
   {"data": {"name": "letC"}, "mark": {"type": "text", "font": "DejaVu Sans", "fontSize": 21, "baseline": "middle", "color": "#222"},
    "encoding": {"x": {"field": "d", "type": "quantitative", "axis": null}, "text": {"field": "t"}}}
  ],
  "resolve": {"axis": {"x": "independent"}}
 }
 ],
 "columns": 1, "spacing": 29, "align": "none"
}
],
"columns": 1, "spacing": 36, "align": "none"
}
